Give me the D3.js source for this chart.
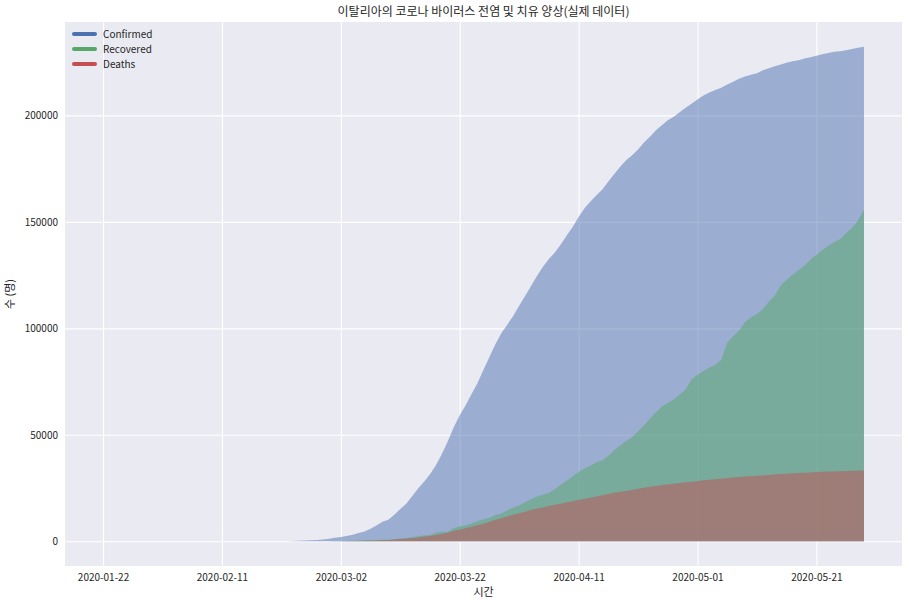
<!DOCTYPE html>
<html><head><meta charset="utf-8">
<script src="https://cdn.jsdelivr.net/npm/d3@7"></script>
<style>
body{margin:0;background:#fff;}
text{font-family:"Noto Sans CJK KR","Noto Sans",sans-serif;fill:#262626;}
</style></head>
<body><svg id="c" width="909" height="606"></svg>
<script>
const startDate = "2020-01-22";
const confirmed = [0,0,0,0,0,0,0,0,0,2,2,2,2,2,2,3,3,3,3,3,3,3,3,3,3,3,3,3,3,3,
20,62,155,229,322,453,655,888,1128,
1694,2036,2502,3089,3858,4636,5883,7375,9172,10149,12462,15113,17660,21157,24747,27980,31506,35713,41035,47021,53578,59138,63927,69176,74386,80589,86498,92472,97689,101739,105792,
110574,115242,119827,124632,128948,132547,135586,139422,143626,147577,152271,156363,159516,162488,165155,168941,172434,175925,178972,181228,183957,187327,189973,192994,195351,197675,199414,201505,203591,205463,
207428,209328,210717,211938,213013,214457,215858,217185,218268,219070,219814,221216,222104,223096,223885,224760,225435,225886,226699,227364,228006,228658,229327,229858,230158,230555,231139,231732,232248];
const recovered = [0,0,0,0,0,0,0,0,0,0,0,0,0,0,0,0,0,0,0,0,0,0,0,0,0,0,0,0,0,0,
0,1,2,1,1,3,45,46,46,
83,149,160,276,414,523,589,622,724,724,1045,1258,1439,1966,2335,2749,2941,4025,4440,4440,6072,7024,7432,8326,9362,10361,10950,12384,13030,14620,15729,
16847,18278,19758,20996,21815,22837,24392,26491,28470,30455,32534,34211,35435,37130,38092,40164,42727,44927,47055,48877,51600,54543,57576,60498,63120,64928,66624,68941,71252,75945,
78249,79914,81654,82879,85231,93245,96276,99023,103031,105186,106587,109039,112541,115288,120205,122810,125176,127326,129401,132282,134560,136720,138840,140479,141981,144658,147101,150604,155633];
const deaths = [0,0,0,0,0,0,0,0,0,0,0,0,0,0,0,0,0,0,0,0,0,0,0,0,0,0,0,0,0,0,
1,2,3,7,10,12,17,21,29,
34,52,79,107,148,197,233,366,463,631,827,1016,1266,1441,1809,2158,2503,2978,3405,4032,4825,5476,6077,6820,7503,8215,9134,10023,10779,11591,12428,
13155,13915,14681,15362,15887,16523,17127,17669,18279,18849,19468,19899,20465,21067,21645,22170,22745,23227,23660,24114,24648,25085,25549,25969,26384,26644,26977,27359,27682,27967,
28236,28710,28884,29079,29315,29684,29958,30201,30395,30560,30739,30911,31106,31368,31610,31763,31908,32007,32169,32330,32486,32616,32735,32785,32877,32955,33072,33142,33229];
const seriesNames = ["Confirmed","Recovered","Deaths"];
const seriesColors = ["#4C72B0","#55A868","#C44E52"];
const xTickLabels = ["2020-01-22","2020-02-11","2020-03-02","2020-03-22","2020-04-11","2020-05-01","2020-05-21"];
const yTickValues = [0,50000,100000,150000,200000];
const titleText = "이탈리아의 코로나 바이러스 전염 및 치유 양상(실제 데이터)";

const parse = d3.utcParse("%Y-%m-%d");
const t0 = parse(startDate);
const dates = confirmed.map((_, i) => d3.utcDay.offset(t0, i));
const series = [confirmed, recovered, deaths];

const svg = d3.select("#c");
const L = 65, R = 902, T = 22, B = 566;
const tMin = +dates[0], tMax = +dates[dates.length-1];
const xm = (tMax - tMin) * 0.05;
const x = d3.scaleUtc().domain([tMin - xm, tMax + xm]).range([L, R]);
const yMax = d3.max(confirmed);
const ym = yMax * 0.05;
const y = d3.scaleLinear().domain([-ym, yMax + ym]).range([B, T]);

svg.append("rect").attr("x", L).attr("y", T).attr("width", R-L).attr("height", B-T).attr("fill", "#EAEAF2");

const xTicks = xTickLabels.map(parse);
const xAxis = d3.axisBottom(x).tickValues(xTicks).tickFormat(d3.utcFormat("%Y-%m-%d")).tickSize(-(B-T)).tickPadding(8);
const gx = svg.append("g").attr("transform", `translate(0,${B})`).call(xAxis);
const yAxis = d3.axisLeft(y).tickValues(yTickValues).tickFormat(d3.format("d")).tickSize(-(R-L)).tickPadding(7);
const gy = svg.append("g").attr("transform", `translate(${L},0)`).call(yAxis);
[gx, gy].forEach(g => {
  g.select(".domain").remove();
  g.selectAll(".tick line").attr("stroke", "#fff").attr("stroke-width", 1.1);
  g.selectAll(".tick text").attr("fill", "#262626").style("font-size", "10px").style("font-family", "'Noto Sans CJK KR', sans-serif");
});

const area = d3.area().x((d, i) => x(dates[i])).y0(y(0)).y1(d => y(d));
series.forEach((s, k) => {
  svg.append("path").datum(s).attr("d", area).attr("fill", seriesColors[k]).attr("fill-opacity", 0.5);
});

// legend
const lg = svg.append("g");
seriesNames.forEach((n, k) => {
  const yy = 34 + k * 15;
  lg.append("line").attr("x1", 74).attr("x2", 95).attr("y1", yy).attr("y2", yy)
    .attr("stroke", seriesColors[k]).attr("stroke-width", 4).attr("stroke-linecap", "round");
  lg.append("text").attr("x", 103).attr("y", yy + 3.5).style("font-size", "10px").text(n);
});

svg.append("text").attr("x", (L+R)/2).attr("y", 16).attr("text-anchor", "middle").style("font-size", "12px").text(titleText);
svg.append("text").attr("x", (L+R)/2).attr("y", 596).attr("text-anchor", "middle").style("font-size", "11px").text("시간");
svg.append("text").attr("transform", `translate(14,${(T+B)/2}) rotate(-90)`).attr("text-anchor", "middle").style("font-size", "11px").text("수 (명)");
</script></body></html>
